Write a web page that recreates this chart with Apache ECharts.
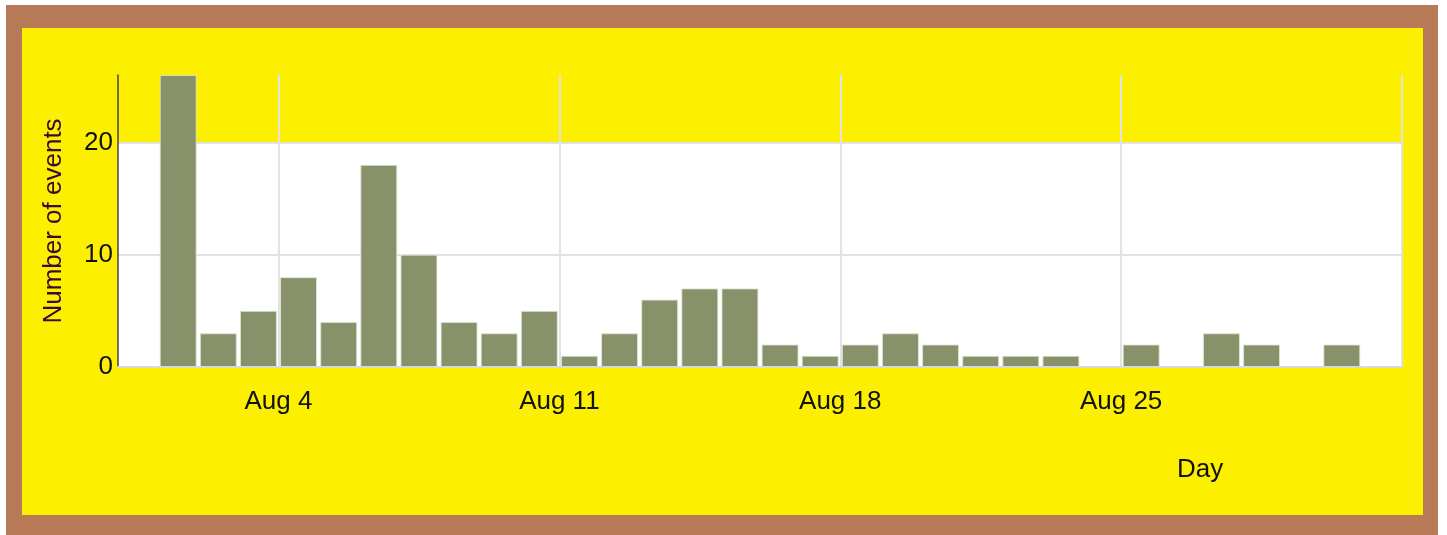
<!DOCTYPE html>
<html>
<head>
<meta charset="utf-8">
<script src="https://cdn.jsdelivr.net/npm/echarts@6/dist/echarts.min.js"></script>
<style>
  html, body { margin: 0; padding: 0; background: #ffffff; }
  #frame { position: absolute; left: 6px; top: 5px; width: 1401px; height: 487px;
           border-style: solid; border-color: #b87a56; border-width: 23px 15px 23px 16px;
           background: #fcef00; }
  #chart { position: absolute; left: 0; top: 0; width: 1447px; height: 535px; }
</style>
</head>
<body>
<div id="frame"></div>
<div id="chart"></div>
<script>
// Daily event counts in August: day of month and number of events
const month = 'Aug';
const days = [
  1, 2, 3, 4, 5, 6, 7, 8, 9, 10, 11, 12, 13, 14, 15, 16,
  17, 18, 19, 20, 21, 22, 23, 24, 25, 26, 27, 28, 29, 30, 31
];
const counts = [
  26, 3, 5, 8, 4, 18, 10, 4, 3, 5, 1, 3, 6, 7, 7, 2,
  1, 2, 3, 2, 1, 1, 1, 0, 2, 0, 3, 2, 0, 2, 0
];
const xLabelDays = [4, 11, 18, 25];          // labelled days (Aug 4, 11, 18, 25)
const xGridDays = [4, 11, 18, 25, 32];       // vertical grid lines (day starts; 32 = Sep 1)
const xRange = [0, 32];                      // Jul 31 .. Sep 1
const yTicks = [0, 10, 20];
const yMax = 26;
const yTitle = 'Number of events';
const xTitle = 'Day';

// each bar covers its whole day: centre of day d is d + 0.5
const barData = [];
days.forEach(function (d, i) {
  if (counts[i] > 0) barData.push([d + 0.5, counts[i]]);
});

const labelFont = '"Liberation Sans", Arial, sans-serif';

const chart = echarts.init(document.getElementById('chart'), null, { renderer: 'canvas' });
chart.setOption({
  backgroundColor: 'transparent',
  animation: false,
  title: {
    text: xTitle,
    left: 1172, top: 452,
    textStyle: { fontFamily: labelFont, fontSize: 26, fontWeight: 'normal', color: '#111' }
  },
  grid: { left: 118, right: 45, top: 75, bottom: 168, containLabel: false },
  xAxis: {
    type: 'value',
    min: xRange[0],
    max: xRange[1],
    axisLine: { show: true, onZero: false, lineStyle: { color: '#dadada', width: 2 } },
    axisTick: { show: false, customValues: xGridDays },
    axisLabel: {
      customValues: xLabelDays,
      margin: 22,
      fontFamily: labelFont, fontSize: 26, color: '#111',
      formatter: function (v) { return month + ' ' + v; }
    },
    splitLine: { show: true, lineStyle: { color: '#e2e2e2', width: 2 } }
  },
  yAxis: {
    type: 'value',
    min: 0, max: yMax, interval: 10,
    name: yTitle,
    nameLocation: 'middle',
    nameGap: 51,
    nameRotate: 90,
    nameTextStyle: { fontFamily: labelFont, fontSize: 26, color: '#3b0a2e' },
    axisLine: { show: true, lineStyle: { color: '#444', width: 1.5 } },
    axisTick: { show: false },
    axisLabel: {
      margin: 5,
      fontFamily: labelFont, fontSize: 26, color: '#111',
      formatter: function (v) { return yTicks.indexOf(v) >= 0 ? String(v) : ''; }
    },
    splitLine: { show: true, showMaxLine: false,
      lineStyle: { color: ['#e2e2e2', '#e2e2e2', '#e2e2e2', 'rgba(0,0,0,0)'], width: 2 } },
    splitArea: { show: true, areaStyle: { color: ['#ffffff', '#ffffff', 'rgba(0,0,0,0)', 'rgba(0,0,0,0)'] } }
  },
  series: [{
    type: 'bar',
    data: barData,
    barWidth: '92%',
    itemStyle: { color: '#87926b', borderColor: 'rgba(225,228,212,0.8)', borderWidth: 1 }
  }]
});
</script>
</body>
</html>
